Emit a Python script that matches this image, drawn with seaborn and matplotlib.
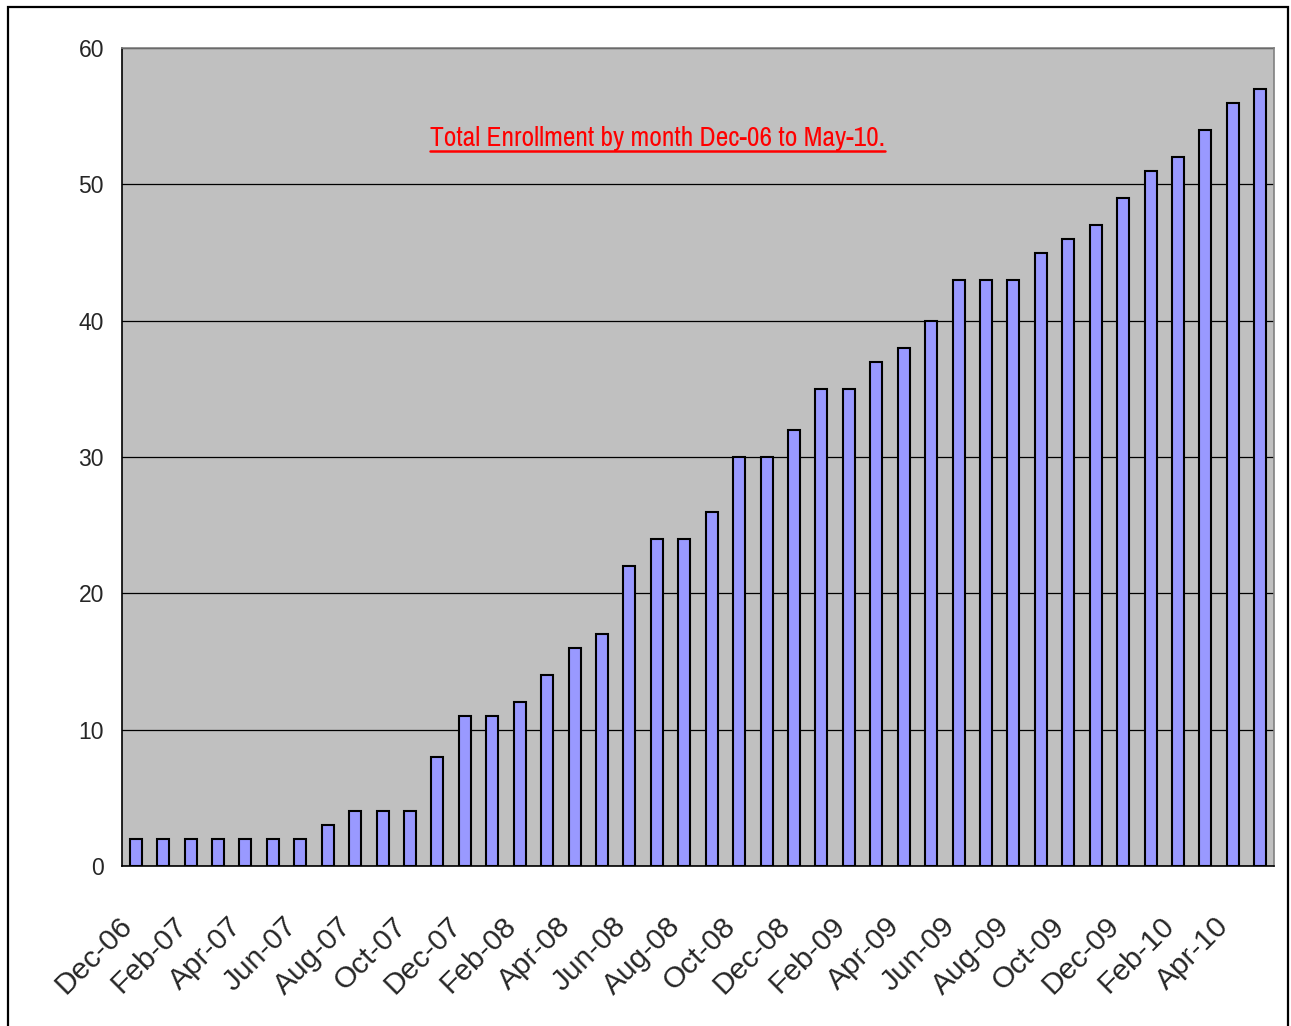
"""Total enrollment by month, Dec-06 to May-10, as an Excel-style bar chart."""

import matplotlib
matplotlib.use("Agg")
import matplotlib.pyplot as plt
import matplotlib.font_manager as fm
import pandas as pd
import seaborn as sns
from matplotlib.lines import Line2D
from matplotlib.patches import Rectangle
from matplotlib.transforms import ScaledTranslation

months = [
    "Dec-06", "Jan-07", "Feb-07", "Mar-07", "Apr-07", "May-07", "Jun-07",
    "Jul-07", "Aug-07", "Sep-07", "Oct-07", "Nov-07", "Dec-07", "Jan-08",
    "Feb-08", "Mar-08", "Apr-08", "May-08", "Jun-08", "Jul-08", "Aug-08",
    "Sep-08", "Oct-08", "Nov-08", "Dec-08", "Jan-09", "Feb-09", "Mar-09",
    "Apr-09", "May-09", "Jun-09", "Jul-09", "Aug-09", "Sep-09", "Oct-09",
    "Nov-09", "Dec-09", "Jan-10", "Feb-10", "Mar-10", "Apr-10", "May-10",
]
enrollment = [
    2, 2, 2, 2, 2, 2, 2,
    3, 4, 4, 4, 8, 11, 11,
    12, 14, 16, 17, 22, 24, 24,
    26, 30, 30, 32, 35, 35, 37,
    38, 40, 43, 43, 43, 45, 46,
    47, 49, 51, 52, 54, 56, 57,
]
y_ticks = [0, 10, 20, 30, 40, 50, 60]
title = "Total Enrollment by month Dec-06 to May-10."

sns.set_style("white")
fonts = fm.fontManager.ttflist
names = {f.name for f in fonts}
base_font = "Liberation Sans" if "Liberation Sans" in names else "DejaVu Sans"
plt.rcParams["font.family"] = [base_font, "DejaVu Sans"]

# pick an upright condensed face for the title if one is installed
title_props = None
for f in fonts:
    if "Narrow" in f.name and f.style == "normal" and f.weight in (400, "normal", "regular"):
        title_props = fm.FontProperties(fname=f.fname, size=19.8)
        break
if title_props is None:
    title_props = fm.FontProperties(family=base_font, size=16.5)

df = pd.DataFrame({"month": months, "enrollment": enrollment})

fig = plt.figure(figsize=(12.91, 10.26), dpi=100)
ax = fig.add_axes([122 / 1291, 1 - 866 / 1026, (1274 - 122) / 1291, (866 - 48) / 1026])
ax.set_facecolor("#C0C0C0")

sns.barplot(data=df, x="month", y="enrollment", ax=ax, color="#9999FF",
            saturation=1, width=0.44, edgecolor="black", linewidth=1.5,
            zorder=3)

ax.set_xlim(-0.5, len(months) - 0.5)
ax.set_ylim(0, 60)
ax.set_yticks(y_ticks)
ax.yaxis.grid(True, color="black", linewidth=0.9, zorder=1)
ax.set_axisbelow(True)
ax.tick_params(axis="y", direction="out", length=7, width=1, color="black",
               labelsize=16.5, pad=6)

# tick marks on category boundaries, labels on every other category
ax.set_xticks([i - 0.5 for i in range(0, len(months) + 1, 2)])
ax.set_xticklabels([])
ax.tick_params(axis="x", which="major", direction="out", length=10, width=1,
               color="black")
ax.set_xticks(list(range(0, len(months), 2)), minor=True)
ax.set_xticklabels(months[::2], minor=True, rotation=45, ha="right",
                   va="top", rotation_mode="anchor", fontsize=21.5)
ax.tick_params(axis="x", which="minor", length=0, pad=33)
shift = ScaledTranslation(-18 / 100, 0, fig.dpi_scale_trans)
for lbl in ax.get_xticklabels(minor=True):
    lbl.set_transform(lbl.get_transform() + shift)

ax.set_xlabel("")
ax.set_ylabel("")
for side in ["left", "bottom"]:
    ax.spines[side].set_color("black")
    ax.spines[side].set_linewidth(1.2)
for side in ["top", "right"]:
    ax.spines[side].set_color("#808080")
    ax.spines[side].set_linewidth(1.2)

txt = ax.text(0.465, 0.889, title, transform=ax.transAxes, ha="center",
              va="center", color="red", fontproperties=title_props, zorder=5)

# underline the title
fig.canvas.draw()
bb = txt.get_window_extent().transformed(ax.transAxes.inverted())
ax.add_line(Line2D([bb.x0, bb.x1], [bb.y0, bb.y0],
                   transform=ax.transAxes, color="red", linewidth=1.8,
                   zorder=5))

# outer frame of the chart object
fig.patches.append(Rectangle((8 / 1291, -0.01), (1288 - 8) / 1291,
                             1 - 7 / 1026 + 0.01, transform=fig.transFigure,
                             fill=False, edgecolor="black", linewidth=1.6))

fig.savefig("out.png", dpi=100)
